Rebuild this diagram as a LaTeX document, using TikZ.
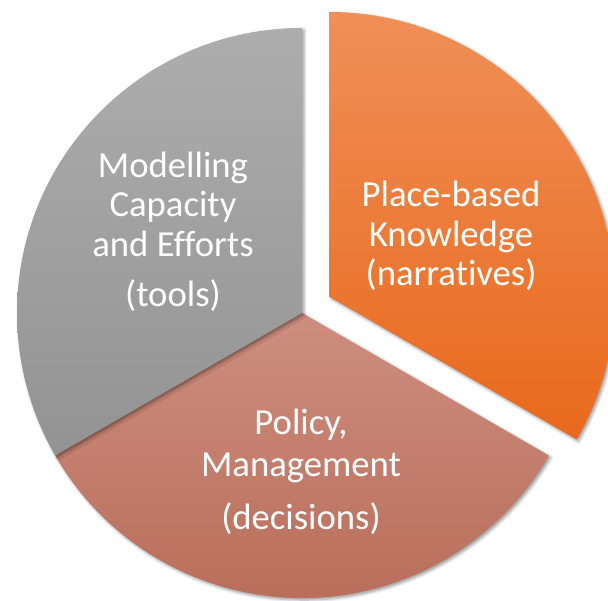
\documentclass[tikz,border=0pt]{standalone}
\usepackage{fontspec}
\setmainfont{Carlito}[Ligatures=NoCommon]
\usetikzlibrary{shadows.blur}

\definecolor{greyTop}{HTML}{ADADAD}
\definecolor{greyBot}{HTML}{939393}
\definecolor{pinkTop}{HTML}{CE8E7F}
\definecolor{pinkBot}{HTML}{B66A56}
\definecolor{oranTop}{HTML}{F08F57}
\definecolor{oranBot}{HTML}{E8691C}

\tikzset{
  slice/.style={blur shadow={shadow xshift=2pt, shadow yshift=-2pt,
      shadow blur radius=3pt, shadow opacity=40}},
  lbl/.style={text=white, anchor=base, inner sep=0pt,
      font=\fontsize{36.7}{40}\selectfont}
}

\begin{document}
\begin{tikzpicture}[x=1pt, y=1pt]
  \useasboundingbox (0,0) rectangle (608,601);
  \clip (0,0) rectangle (608,601);
  \coordinate (C) at (302,288);
  \coordinate (O) at ($(C)+(30:32)$);

  % pulled-out slice: place-based knowledge
  \path[slice, top color=oranTop, bottom color=oranBot]
    (O) -- ++(-30:285pt) arc[start angle=-30, end angle=90, radius=285pt] -- cycle;
  % lower slice: policy and management
  \path[slice, top color=pinkTop, bottom color=pinkBot]
    (C) -- ++(210:285pt) arc[start angle=210, end angle=330, radius=285pt] -- cycle;
  % left slice: modelling
  \path[slice, top color=greyTop, bottom color=greyBot]
    (C) -- ++(90:285pt) arc[start angle=90, end angle=210, radius=285pt] -- cycle;

  % labels
  \node[lbl] (g1) at (173,423) {Modelling};
  \node[lbl] (g2) at (173,384) {Capacity};
  \node[lbl] (g3) at (173,344) {and Efforts};
  \node[lbl] (g4) at (173,294) {(tools)};

  \node[lbl] (o1) at (451,394) {Place-based};
  \node[lbl] (o2) at (451,354) {Knowledge};
  \node[lbl] (o3) at (451,315) {(narratives)};

  \node[lbl] (p1) at (301,166) {Policy,};
  \node[lbl] (p2) at (301,124) {Management};
  \node[lbl] (p3) at (301,71) {(decisions)};
\end{tikzpicture}
\end{document}
